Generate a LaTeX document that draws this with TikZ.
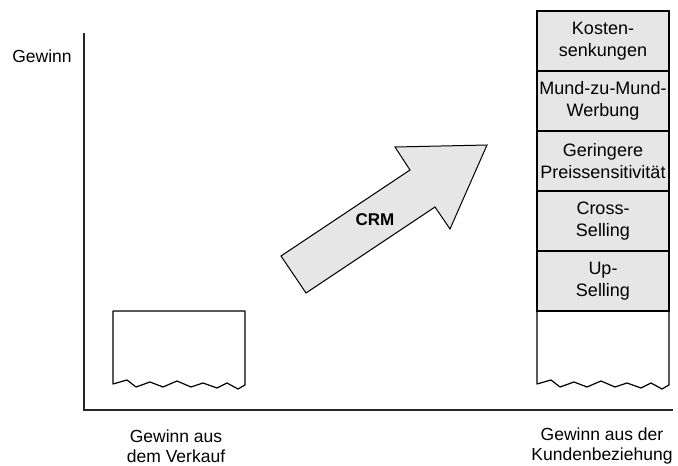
\documentclass[tikz,border=0pt]{standalone}
\usepackage{fontspec}
\setmainfont{Liberation Sans}
\begin{document}
\begin{tikzpicture}[x=1pt,y=-1pt,
  lbl/.style={font=\fontsize{17.5}{19.5}\selectfont, align=center, inner sep=0pt},
  rowbox/.style={draw=black, line width=1.2pt, fill=rowgray, minimum width=132pt, minimum height=60pt, inner sep=0pt, outer sep=0pt, align=center, font=\fontsize{18}{22}\selectfont},
  axis/.style={line width=1.8pt, draw=black!85},
  torn/.style={draw=black, line width=1.2pt, fill=white, line join=round}]
\definecolor{rowgray}{HTML}{E6E6E6}
\useasboundingbox (0,0) rectangle (678,466);
% axes
\coordinate (ytop) at (84,33);
\coordinate (orig) at (84,410);
\coordinate (xend) at (673,410);
\draw[axis] (ytop) -- (orig) -- (xend);
\node[lbl] (gewinn) at (42,56) {Gewinn};
% torn boxes
\foreach \s/\t in {0/311, 424/311}{
\begin{scope}[shift={(\s,0)}]
\draw[torn] (113,\t) -- (113,384) -- (127,380) -- (136,387) -- (150,382) -- (163,387) -- (177,381) -- (191,387) -- (203,383) -- (217,388) -- (227,383) -- (238,389) -- (245,385) -- (245,\t) -- cycle;
\end{scope}}
% stack
\node[rowbox] (up) at (603,281) {Up-\\Selling};
\node[rowbox] (cross) at (603,221) {Cross-\\Selling};
\node[rowbox] (preis) at (603,161) {Geringere\\Preissensitivität};
\node[rowbox] (mund) at (603,101) {Mund-zu-Mund-\\Werbung};
\node[rowbox] (kosten) at (603,41) {Kosten-\\senkungen};
% arrow
\draw[draw=black, line width=1pt, fill=rowgray, line join=miter]
  (281,256) -- (410,170) -- (395,147) -- (487,145) -- (450,229) -- (435,207) -- (306,293) -- cycle;
\node[font=\fontsize{17}{20}\selectfont\bfseries, inner sep=0pt] (crm) at (375,220) {CRM};
% bottom labels
\node[lbl] (verkauf) at (176,446) {Gewinn aus\\dem Verkauf};
\node[lbl] (kunde) at (602,446) {Gewinn aus der\\Kundenbeziehung};
\end{tikzpicture}
\end{document}
